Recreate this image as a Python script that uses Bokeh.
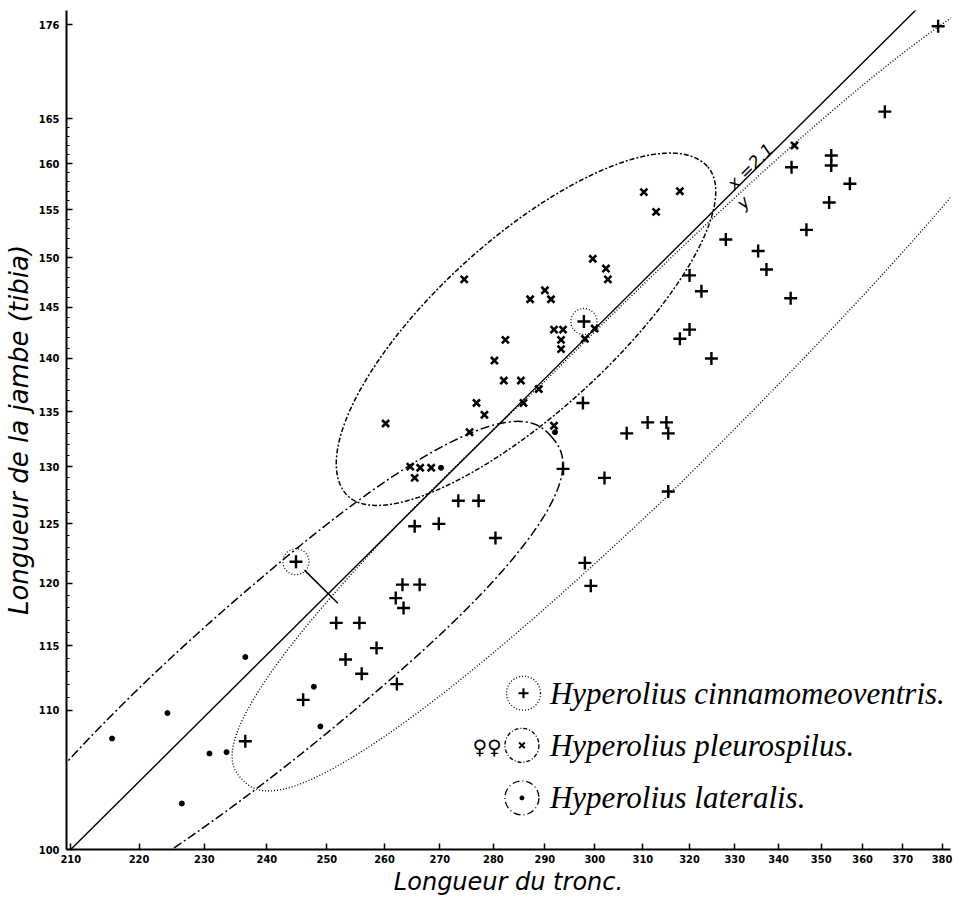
import numpy as np
from bokeh.plotting import figure
from bokeh.models import Range1d, FixedTicker, PrintfTickFormatter, Label
from bokeh.core.properties import value
from bokeh.embed import file_html
from bokeh.resources import INLINE

# ---------------- data ----------------
# Hyperolius cinnamomeoventris (+)
cin_x = [379.0, 365.5, 343.0, 352.4, 352.4, 356.9, 351.9, 346.5, 328.0, 335.3, 337.2,
         320.0, 322.6, 320.0, 317.9, 324.8, 342.8, 297.6, 293.6, 273.4, 277.2, 265.4, 269.8,
         280.4, 298.0, 263.2, 266.3, 262.0, 263.4, 251.6, 255.6, 258.6, 253.2, 256.0, 262.2,
         246.0, 236.5, 244.8, 297.8, 302.0, 306.6, 311.0, 315.0, 315.4, 315.4, 299.2]
cin_y = [175.8, 165.8, 159.6, 160.9, 159.8, 157.8, 155.8, 152.9, 151.9, 150.7, 148.8,
         148.2, 146.6, 142.8, 141.9, 140.0, 145.9, 135.8, 129.8, 127.0, 127.0, 124.8, 125.0,
         123.8, 121.7, 119.9, 119.9, 118.8, 118.0, 116.8, 116.8, 114.8, 113.9, 112.8, 112.0,
         110.8, 107.7, 121.8, 143.6, 129.0, 133.0, 134.0, 134.0, 133.0, 127.8, 119.8]
# Hyperolius pleurospilus (x)
ple_x = [260.2, 274.5, 276.8, 278.3, 275.5, 264.6, 266.4, 268.4, 265.4, 282.0, 285.3, 285.8,
         288.8, 280.2, 282.3, 287.1, 290.0, 291.2, 291.8, 293.6, 293.2, 293.2, 298.0, 300.0,
         299.6, 302.3, 302.7, 310.2, 317.9, 312.8, 291.8, 343.7]
ple_y = [133.9, 147.8, 135.8, 134.7, 133.1, 130.0, 129.9, 129.9, 129.0, 137.9, 137.9, 135.8,
         137.1, 139.8, 141.8, 145.8, 146.7, 145.8, 142.8, 142.8, 141.8, 140.9, 141.9, 142.9,
         149.9, 148.9, 147.8, 156.9, 157.0, 154.8, 133.7, 162.0]
# Hyperolius lateralis (.)
lat_x = [216.0, 224.3, 226.5, 230.8, 233.5, 236.5, 247.8, 248.9, 270.2, 292.0]
lat_y = [107.9, 109.8, 103.2, 106.8, 106.9, 114.1, 111.8, 108.8, 129.9, 133.1]
# circled specimens
ring_x = [244.8, 297.8]
ring_y = [121.8, 143.6]

x_ticks = list(range(210, 381, 10))
y_ticks = [100, 110, 115, 120, 125, 130, 135, 140, 145, 150, 155, 160, 165, 176]
y_minor = [v for v in range(111, 165) if v not in y_ticks]
ratio = 2.1          # isometry line x / y = 2.1

# envelopes: centre x, centre y, angle (deg, log space), a+, a-, b+, b-, exponent+, exponent-,
# shear of the minus half
env_cin = (302.2, 132.45, 45.0, 0.1917, 0.1475, 0.0249, 0.0249, 2.5, 2.5, -0.028)
env_ple = (286.5, 142.7, 42.5, 0.0723, 0.0723, 0.0273, 0.0243, 2.0, 2.0, 0.0)
env_lat = (246.5, 115.0, 40.5, 0.0955, 0.1327, 0.0239, 0.0239, 2.5, 2.0, 0.0)

species = ["Hyperolius cinnamomeoventris.", "Hyperolius pleurospilus.", "Hyperolius lateralis."]


def envelope(cx, cy, ang, a_pos, a_neg, b_pos, b_neg, p_pos, p_neg, k_neg, n=1500):
    t = np.linspace(0, 2 * np.pi, n)
    c, s = np.cos(t), np.sin(t)
    a = np.where(c >= 0, a_pos, a_neg)
    b = np.where(s >= 0, b_pos, b_neg)
    e = np.where(c >= 0, 2.0 / p_pos, 2.0 / p_neg)
    lc = a * np.sign(c) * np.abs(c) ** e
    ls = b * np.sign(s) * np.abs(s) ** e
    ls = ls + np.where(lc < 0, k_neg * lc, 0.0)
    th = np.radians(ang)
    du = lc * np.cos(th) - ls * np.sin(th)
    dv = lc * np.sin(th) + ls * np.cos(th)
    return 10 ** (np.log10(cx) + du), 10 ** (np.log10(cy) + dv)


TICK_FONT = "DejaVu Sans Condensed, Liberation Sans Narrow, DejaVu Sans"
LAB_FONT = "DejaVu Sans"
SERIF = "Liberation Serif"

p = figure(width=965, height=904, x_axis_type="log", y_axis_type="log",
           x_range=Range1d(209.4, 382.2), y_range=Range1d(100, 177.7),
           output_backend="svg", toolbar_location=None,
           min_border_left=64, min_border_right=15, min_border_top=10, min_border_bottom=55)
p.outline_line_color = None
p.xgrid.visible = False
p.ygrid.visible = False
p.background_fill_color = "white"

xa = p.xaxis[0]
xa.ticker = FixedTicker(ticks=x_ticks)
xa.formatter = PrintfTickFormatter(format="%d")
ya = p.yaxis[0]
ya.ticker = FixedTicker(ticks=y_ticks, minor_ticks=y_minor)
ya.formatter = PrintfTickFormatter(format="%d")
for ax in (xa, ya):
    ax.major_tick_in = 6
    ax.major_tick_out = 0
    ax.minor_tick_in = 3
    ax.minor_tick_out = 0
    ax.axis_line_width = 2
    ax.major_tick_line_width = 1.5
    ax.axis_line_color = "black"
    ax.major_label_text_font = TICK_FONT
    ax.major_label_text_font_style = "bold"
    ax.major_label_text_font_size = "11px"
    ax.major_label_text_color = "black"
    ax.axis_label_text_font = LAB_FONT
    ax.axis_label_text_font_style = "italic"
    ax.axis_label_text_color = "black"
    ax.axis_label_standoff = 2
xa.minor_tick_in = 0
xa.major_label_standoff = 5
ya.major_label_standoff = 7
xa.axis_label = "Longueur du tronc."
ya.axis_label = "Longueur de la jambe (tibia)"
xa.axis_label_text_font_size = "24px"
ya.axis_label_text_font_size = "26px"

# isometry line
iso = np.array([209.4, 382.2])
p.line(iso, iso / ratio, line_color="black", line_width=1.4)

# envelopes
ex, ey = envelope(*env_cin)
p.line(ex, ey, line_color="black", line_width=1.4, line_dash="1 2")
ex, ey = envelope(*env_ple)
p.line(ex, ey, line_color="black", line_width=1.5, line_dash="5 2 2 2")
ex, ey = envelope(*env_lat)
p.line(ex, ey, line_color="black", line_width=1.5, line_dash="9 3 2 3")

# points
p.scatter(cin_x, cin_y, marker="cross", size=13, line_width=2.4, line_color="black")
p.scatter(ple_x, ple_y, marker="x", size=10, line_width=2.6, line_color="black")
p.scatter(lat_x, lat_y, marker="circle", size=5, fill_color="black", line_color="black")

# circled specimens and arrow to the isometry line
p.scatter(ring_x, ring_y, marker="circle", size=26, fill_color=None, line_color="black",
          line_width=1.2, line_dash=value("1 2"))
lu, lv = np.log10(ring_x[0]), np.log10(ring_y[0])
d = (lv - lu + np.log10(ratio)) / 2.0
p.line([10 ** (lu + 0.0025), 10 ** (lu + 1.3 * d)], [10 ** (lv - 0.0025), 10 ** (lv - 1.3 * d)],
       line_color="black", line_width=1.5)

# x / y = 2.1 label
p.add_layout(Label(x=329.0, y=157.5, text="x =2.1", angle=np.pi / 4, text_align="left",
                   text_baseline="middle", text_font=LAB_FONT, text_font_style="italic",
                   text_font_size="17px", text_color="black"))
p.add_layout(Label(x=331.9, y=155.8, text="y", angle=np.pi / 4, text_align="center",
                   text_baseline="middle", text_font=LAB_FONT, text_font_style="italic",
                   text_font_size="17px", text_color="black"))

# legend (drawn by hand)
leg_cx = [285.8, 285.5, 285.5]
leg_cy = [111.3, 107.4, 103.6]
dashes = ["1 2", "4 2 1 2", "7 3 1 3"]
marks = [("cross", 10, 2.0), ("x", 8, 1.8), ("circle", 4, 1.0)]
for i in range(3):
    p.scatter([leg_cx[i]], [leg_cy[i]], marker="circle", size=34, fill_color=None,
              line_color="black", line_width=1.3, line_dash=value(dashes[i]))
    m, sz, lw = marks[i]
    p.scatter([leg_cx[i]], [leg_cy[i]], marker=m, size=sz, line_width=lw,
              line_color="black", fill_color="black")
    p.add_layout(Label(x=291.0, y=leg_cy[i], text=species[i], text_align="left",
                       text_baseline="middle", text_font=SERIF, text_font_style="italic",
                       text_font_size="31px", text_color="black"))
p.add_layout(Label(x=278.8, y=107.3, text="\u2640\u2640", text_align="center",
                   text_baseline="middle", text_font=LAB_FONT, text_font_size="20px",
                   text_color="black"))

open("out.html", "w").write(file_html(p, INLINE))
